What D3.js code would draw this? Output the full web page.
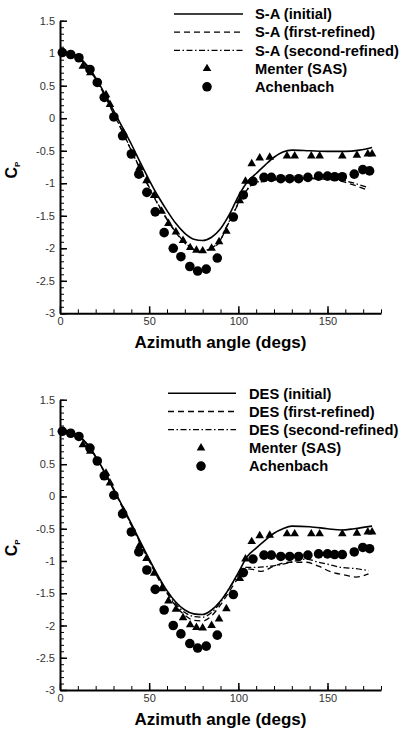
<!DOCTYPE html>
<html>
<head>
<meta charset="utf-8">
<script src="https://cdn.jsdelivr.net/npm/d3@7"></script>
<style>
  html, body { margin: 0; padding: 0; background: #fff; }
  svg { display: block; font-family: "Liberation Sans", Arial, sans-serif; }
</style>
</head>
<body>
<div id="chart"></div>
<script>
'use strict';

// tick labels
var xTicks = [0, 50, 100, 150];
var yTicks = [1.5, 1, 0.5, 0, -0.5, -1, -1.5, -2, -2.5, -3];

// experiments / reference computation (same in both panels)  [angle, Cp]
var achenbach = [
  [1.3, 1.01], [6, 0.98], [10.6, 0.93], [16.8, 0.75], [20.9, 0.55], [24.8, 0.32],
  [30.2, 0.02], [35.1, -0.27], [40, -0.55], [44.2, -0.86], [48.7, -1.14], [53.4, -1.44],
  [58.4, -1.76], [63.5, -2.0], [67.8, -2.13], [72.8, -2.28], [77.2, -2.35], [82, -2.32],
  [88.2, -2.15], [97.2, -1.52], [102.8, -1.18], [108.2, -0.97], [114.4, -0.91], [118.5, -0.91],
  [123.8, -0.93], [128.8, -0.93], [133.8, -0.93], [139, -0.91], [145, -0.89], [150, -0.89],
  [154, -0.9], [158.3, -0.9], [165, -0.86], [169.8, -0.79], [173.6, -0.81]
];
var menter = [
  [12.8, 0.8], [17, 0.7], [25.8, 0.36], [28, 0.21], [35.5, -0.22], [44.6, -0.76],
  [48.5, -0.96], [52.8, -1.19], [57, -1.43], [60.8, -1.62], [65, -1.75], [69, -1.88],
  [73, -1.99], [76.5, -2.03], [80, -2.04], [85, -2.0], [89.2, -1.9], [93.3, -1.74],
  [100.8, -1.27], [104, -0.97], [107.5, -0.7], [112, -0.61], [117.6, -0.6], [127.3, -0.58],
  [131.6, -0.58], [140.9, -0.58], [145.6, -0.58], [158.3, -0.58], [166.5, -0.57],
  [172.6, -0.55], [175, -0.55]
];

// S-A runs
var saInitial = [
  [0, 1.02], [5, 1.0], [10, 0.95], [15, 0.82], [20, 0.62], [25, 0.38], [30, 0.12],
  [35, -0.14], [40, -0.4], [45, -0.68], [50, -0.95], [55, -1.2], [60, -1.42], [65, -1.62],
  [70, -1.77], [75, -1.86], [80, -1.88], [85, -1.83], [90, -1.7], [95, -1.48], [100, -1.2],
  [105, -0.98], [110, -0.85], [115, -0.72], [120, -0.6], [125, -0.52], [130, -0.49],
  [140, -0.5], [150, -0.51], [160, -0.51], [168, -0.49], [175, -0.45]
];
var saFirst = [
  [0, 1.02], [5, 1.0], [10, 0.94], [15, 0.8], [20, 0.6], [25, 0.35], [30, 0.07],
  [35, -0.21], [40, -0.5], [45, -0.79], [50, -1.07], [55, -1.33], [60, -1.56], [65, -1.76],
  [70, -1.92], [75, -2.02], [79, -2.06], [85, -2.0], [88, -1.95], [90, -1.88], [93, -1.7],
  [97, -1.48], [101, -1.26], [106, -1.07], [110, -1.0], [115, -0.97], [120, -0.95],
  [130, -0.94], [140, -0.93], [150, -0.94], [158, -0.97], [165, -1.03], [173, -1.11]
];
var saSecond = [
  [0, 1.02], [5, 1.0], [10, 0.94], [15, 0.8], [20, 0.6], [25, 0.35], [30, 0.08],
  [35, -0.2], [40, -0.49], [45, -0.78], [50, -1.06], [55, -1.32], [60, -1.55], [65, -1.75],
  [70, -1.91], [75, -2.01], [79, -2.05], [85, -1.99], [88, -1.94], [90, -1.87], [93, -1.69],
  [97, -1.47], [101, -1.25], [106, -1.06], [110, -0.99], [115, -0.96], [120, -0.94],
  [130, -0.93], [140, -0.92], [150, -0.93], [158, -0.95], [165, -1.0], [173, -1.07]
];

// DES runs
var desInitial = [
  [0, 1.02], [5, 1.0], [10, 0.95], [15, 0.82], [20, 0.62], [25, 0.38], [30, 0.12],
  [35, -0.15], [40, -0.42], [45, -0.7], [50, -0.97], [55, -1.23], [60, -1.46], [65, -1.64],
  [70, -1.76], [75, -1.82], [80, -1.83], [85, -1.76], [90, -1.62], [95, -1.42], [100, -1.18],
  [105, -0.93], [110, -0.8], [115, -0.68], [120, -0.57], [125, -0.5], [130, -0.46],
  [140, -0.47], [150, -0.5], [158, -0.52], [165, -0.5], [175, -0.46]
];
var desFirst = [
  [0, 1.02], [5, 1.0], [10, 0.95], [15, 0.81], [20, 0.61], [25, 0.37], [30, 0.1],
  [35, -0.17], [40, -0.45], [45, -0.73], [50, -1.0], [55, -1.27], [60, -1.5], [65, -1.7],
  [70, -1.84], [75, -1.92], [80, -1.93], [85, -1.85], [90, -1.68], [95, -1.47], [100, -1.26],
  [104, -1.12], [108, -1.13], [113, -1.16], [120, -1.08], [128, -1.02], [138, -1.02],
  [145, -1.08], [152, -1.17], [160, -1.22], [166, -1.25], [173, -1.2]
];
var desSecond = [
  [0, 1.02], [5, 1.0], [10, 0.95], [15, 0.81], [20, 0.61], [25, 0.37], [30, 0.11],
  [35, -0.16], [40, -0.44], [45, -0.72], [50, -0.99], [55, -1.25], [60, -1.48], [65, -1.67],
  [70, -1.8], [75, -1.86], [80, -1.87], [85, -1.8], [90, -1.64], [95, -1.42], [100, -1.22],
  [104, -1.1], [110, -1.1], [115, -1.09], [125, -1.05], [132, -1.0], [138, -0.97],
  [145, -1.02], [150, -1.05], [158, -1.1], [166, -1.12], [173, -1.15]
];

var W = 401, H = 731;

var svg = d3.select('#chart')
  .append('svg')
  .attr('width', W)
  .attr('height', H);

var dashes = {
    solid   : null
  , dashed  : '6,4'
  , dashdot : '6,2.5,1.5,2.5'
};

function drawPanel (cfg) {
  var x = d3.scaleLinear().domain([0, 180]).range([60, 381]);
  var y = d3.scaleLinear().domain([-3, 1.5]).range([cfg.bottom, cfg.top]);

  var g = svg.append('g');

  // minor ticks
  g.append('g')
    .attr('transform', 'translate(0,' + cfg.bottom + ')')
    .call(d3.axisBottom(x).tickValues(d3.range(0, 181, 10)).tickSize(-4).tickFormat(''))
    .call(function (s) { s.select('.domain').remove(); });
  g.append('g')
    .attr('transform', 'translate(60,0)')
    .call(d3.axisLeft(y).tickValues(d3.range(-30, 16, 1).map(function (d) { return d / 10; }))
      .tickSize(-4).tickFormat(''))
    .call(function (s) { s.select('.domain').remove(); });

  // major ticks + labels
  var xa = g.append('g')
    .attr('transform', 'translate(0,' + cfg.bottom + ')')
    .call(d3.axisBottom(x).tickValues(xTicks).tickSizeInner(-7).tickSizeOuter(0)
      .tickPadding(4).tickFormat(String));
  var ya = g.append('g')
    .attr('transform', 'translate(60,0)')
    .call(d3.axisLeft(y).tickValues(yTicks).tickSizeInner(-7).tickSizeOuter(0)
      .tickPadding(5).tickFormat(String));

  [xa, ya].forEach(function (a) {
    a.select('.domain').attr('stroke', '#000').attr('stroke-width', 2);
    a.selectAll('.tick line').attr('stroke-width', 1.5);
    a.selectAll('.tick text')
      .attr('font-size', 11)
      .attr('fill', '#333')
      .attr('font-family', '"Liberation Sans", Arial, sans-serif');
  });
  g.selectAll('.tick line').attr('stroke', '#000');

  // lines
  var line = d3.line()
    .x(function (d) { return x(d[0]); })
    .y(function (d) { return y(d[1]); })
    .curve(d3.curveMonotoneX);

  cfg.lines.forEach(function (s) {
    g.append('path')
      .datum(s.data)
      .attr('fill', 'none')
      .attr('stroke', '#000')
      .attr('stroke-width', s.style === 'solid' ? 1.6 : 1.3)
      .attr('stroke-dasharray', dashes[s.style])
      .attr('d', line);
  });

  // symbols
  var tri = d3.symbol().type(d3.symbolTriangle).size(32);
  g.append('g').selectAll('path')
    .data(menter)
    .join('path')
    .attr('transform', function (d) { return 'translate(' + x(d[0]) + ',' + y(d[1]) + ')'; })
    .attr('d', tri)
    .attr('fill', '#000');

  g.append('g').selectAll('circle')
    .data(achenbach)
    .join('circle')
    .attr('cx', function (d) { return x(d[0]); })
    .attr('cy', function (d) { return y(d[1]); })
    .attr('r', 4.8)
    .attr('fill', '#000');

  // axis titles
  g.append('text')
    .attr('x', (x.range()[0] + x.range()[1]) / 2)
    .attr('y', cfg.bottom + 35)
    .attr('text-anchor', 'middle')
    .attr('font-size', 17)
    .attr('font-weight', 'bold')
    .text('Azimuth angle (degs)');

  var yl = g.append('text')
    .attr('transform', 'translate(17,' + ((cfg.top + cfg.bottom) / 2 + 3) + ') rotate(-90)')
    .attr('text-anchor', 'middle')
    .attr('font-size', 16)
    .attr('font-weight', 'bold')
    .text('C');
  yl.append('tspan')
    .attr('font-size', 8)
    .attr('dy', 3)
    .text('P');

  // legend
  var L = cfg.legend;
  var rows = cfg.lines.map(function (s) { return { label: s.label, style: s.style }; })
    .concat([{ label: 'Menter (SAS)', mark: 'tri' }, { label: 'Achenbach', mark: 'dot' }]);

  rows.forEach(function (r, i) {
    var ry = L.y + i * 18.2;
    if (r.style) {
      g.append('line')
        .attr('x1', L.x0).attr('x2', L.x1)
        .attr('y1', ry).attr('y2', ry)
        .attr('stroke', '#000')
        .attr('stroke-width', r.style === 'solid' ? 1.6 : 1.3)
        .attr('stroke-dasharray', dashes[r.style]);
    } else if (r.mark === 'tri') {
      g.append('path')
        .attr('transform', 'translate(' + L.mx + ',' + ry + ')')
        .attr('d', tri)
        .attr('fill', '#000');
    } else {
      g.append('circle')
        .attr('cx', L.mx).attr('cy', ry).attr('r', 4.8)
        .attr('fill', '#000');
    }
    g.append('text')
      .attr('x', L.tx)
      .attr('y', ry)
      .attr('dy', '0.36em')
      .attr('font-size', 14.7)
      .attr('font-weight', 'bold')
      .text(r.label);
  });
}

drawPanel({
    top    : 20.7
  , bottom : 313.3
  , legend : { x0: 174, x1: 243, tx: 255, mx: 207, y: 14 }
  , lines  : [
        { data: saInitial, style: 'solid',   label: 'S-A (initial)' }
      , { data: saFirst,   style: 'dashed',  label: 'S-A (first-refined)' }
      , { data: saSecond,  style: 'dashdot', label: 'S-A (second-refined)' }
    ]
});

drawPanel({
    top    : 399.7
  , bottom : 690
  , legend : { x0: 168, x1: 236, tx: 249, mx: 201, y: 393.3 }
  , lines  : [
        { data: desInitial, style: 'solid',   label: 'DES (initial)' }
      , { data: desFirst,   style: 'dashed',  label: 'DES (first-refined)' }
      , { data: desSecond,  style: 'dashdot', label: 'DES (second-refined)' }
    ]
});
</script>
</body>
</html>
